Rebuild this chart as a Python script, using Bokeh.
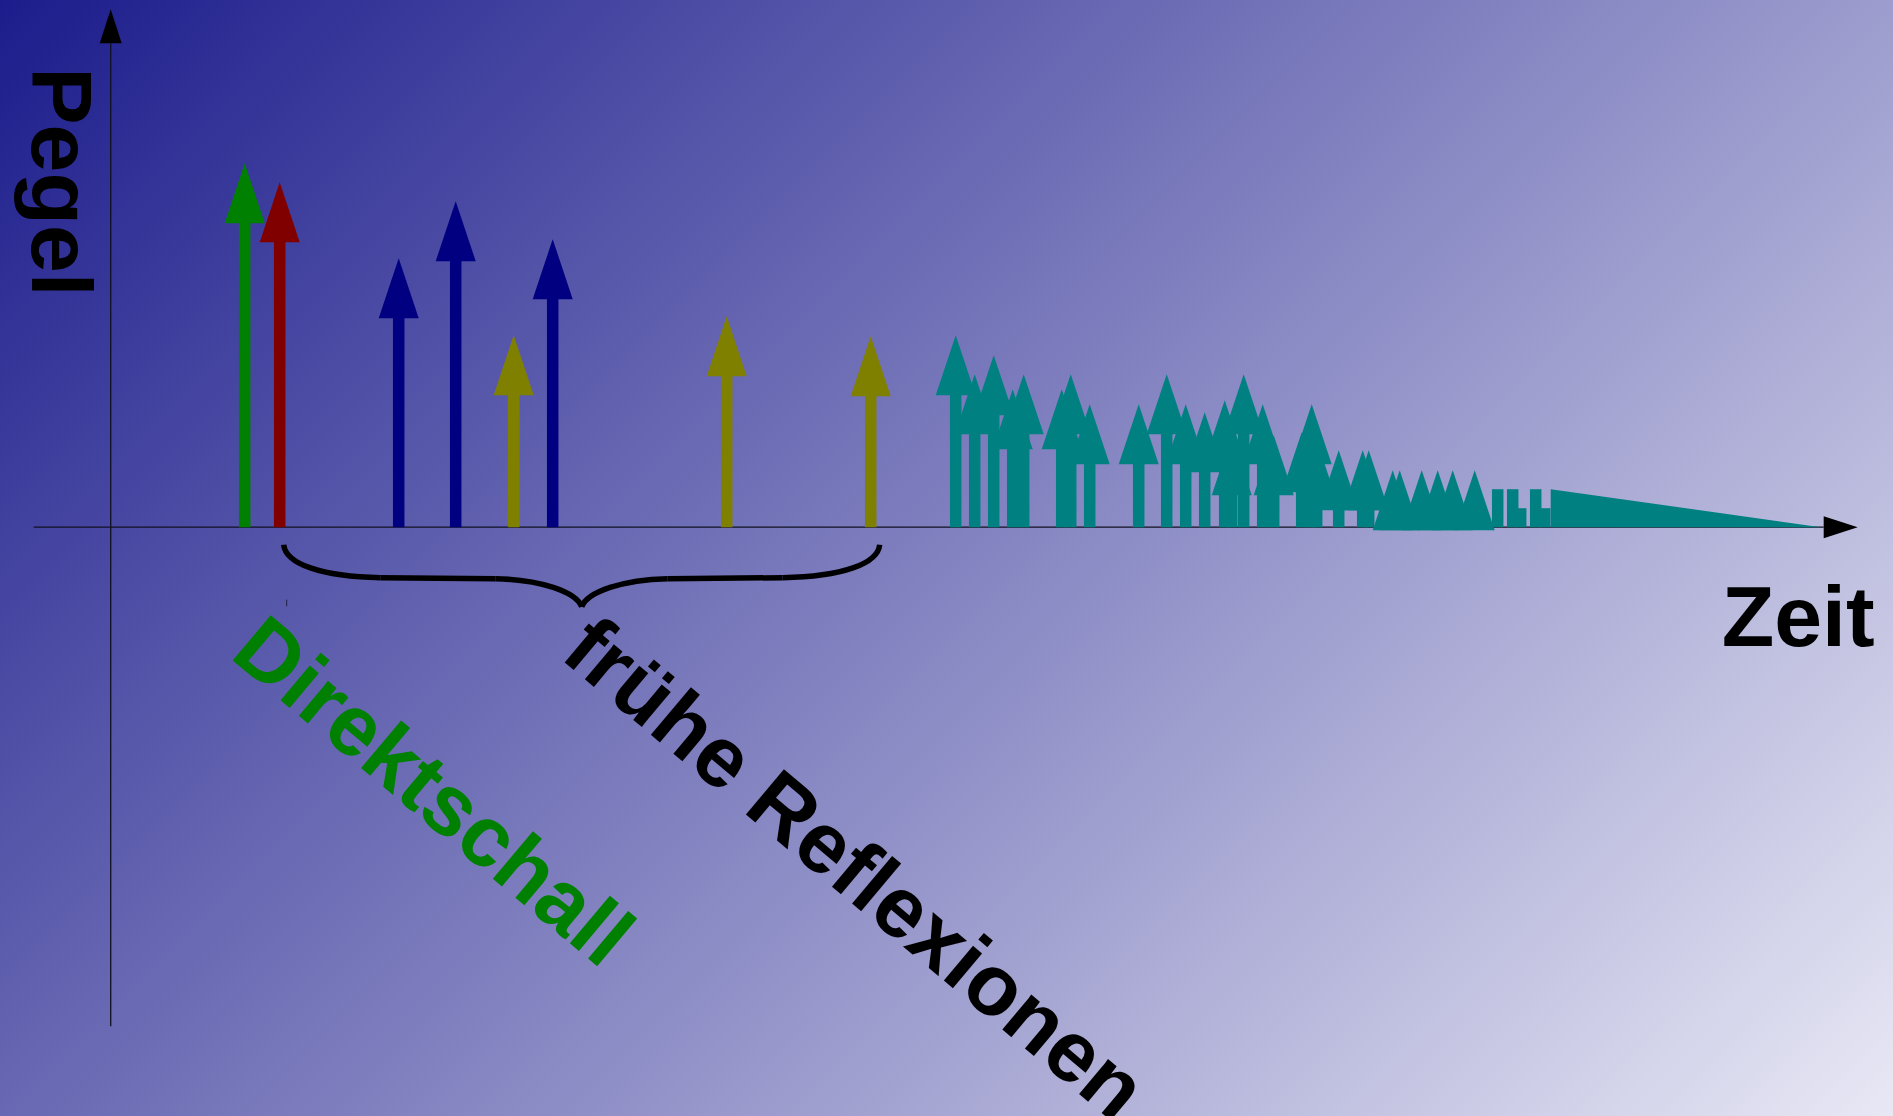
import math
from bokeh.plotting import figure
from bokeh.models import Range1d, ColumnDataSource
from bokeh.core.properties import value
from bokeh.embed import file_html
from bokeh.resources import INLINE

# ---------------- data (time / level in arbitrary units, origin at axis crossing) ----------------
direct_time = [13.4]                     # Direktschall (green)
direct_level = [36.4]
first_time = [16.9]                      # first reflection (red)
first_level = [34.5]
blue_time = [28.8, 34.5, 44.2]
blue_level = [26.9, 32.6, 28.8]
olive_time = [40.3, 61.6, 76.0]
olive_level = [19.2, 21.1, 19.1]
teal_time = [84.5, 86.4, 88.3, 90.2, 91.3, 95.1, 96.0, 97.9, 102.8, 105.6,
             107.5, 109.4, 111.4, 112.1, 113.3, 115.2, 116.3, 119.1, 120.1, 120.6,
             122.8, 125.2, 125.8, 128.2, 128.9, 131.1, 132.7, 134.2, 136.4]
teal_level = [19.2, 15.3, 17.2, 13.8, 15.3, 13.8, 15.3, 12.3, 12.3, 15.3,
              12.3, 11.5, 12.7, 9.2, 15.3, 12.3, 9.2, 9.5, 12.3, 8.7,
              7.7, 7.7, 7.7, 5.7, 5.7, 5.7, 5.7, 5.7, 5.7]
stub_time = [138.7, 140.2, 141.0, 142.5, 143.4]
stub_level = [3.8, 3.8, 1.9, 3.8, 1.9]
tail_time = [144.0, 171.0]               # diffuse decay
tail_level = [3.8, 0.0]
brace_span = [17.3, 76.9]                # "frühe Reflexionen"

# ---------------- styles ----------------
PX = 10.0            # pixels per data unit
HEAD_LEN = 60 / PX
HEAD_HALF = 20 / PX
SHAFT_W = 11.5 / PX
W, H = 1893, 1116
X0_PX, Y0_PX = 110.2, 526.7   # axis origin in pixels
FONT = value("Liberation Sans")

p = figure(width=W, height=H, output_backend="svg", toolbar_location=None,
           x_axis_type=None, y_axis_type=None, min_border=0,
           x_range=Range1d((0 - X0_PX) / PX, (W - X0_PX) / PX),
           y_range=Range1d((Y0_PX - H) / PX, Y0_PX / PX))
p.outline_line_color = None
p.background_fill_alpha = 0
p.border_fill_alpha = 0
p.styles = {"background": "linear-gradient(135deg, #1c1c8c 0%, #e8e8f5 100%)"}

# ---------------- axes with arrow heads ----------------
AX_HEAD_L, AX_HEAD_HW = 3.4, 1.1
p.line([-7.7, 174.7 - AX_HEAD_L], [0, 0], line_color="#111122", line_width=1.3)
p.line([0, 0], [-49.9, 51.8 - AX_HEAD_L], line_color="#111122", line_width=1.3)
p.patch([174.7 - AX_HEAD_L, 174.7, 174.7 - AX_HEAD_L], [AX_HEAD_HW, 0, -AX_HEAD_HW],
        fill_color="black", line_color=None)
p.patch([-AX_HEAD_HW, 0, AX_HEAD_HW], [51.8 - AX_HEAD_L, 51.8, 51.8 - AX_HEAD_L],
        fill_color="black", line_color=None)


def arrows(times, levels, color):
    tops = [max(l - HEAD_LEN + 0.05, 0) for l in levels]
    shafts = [(t, tp) for t, tp in zip(times, tops) if tp > 0]
    if shafts:
        p.vbar(x=[s[0] for s in shafts], top=[s[1] for s in shafts], bottom=0,
               width=SHAFT_W, fill_color=color, line_color=None)
    xs = [[t - HEAD_HALF, t, t + HEAD_HALF] for t in times]
    ys = [[l - HEAD_LEN, l, l - HEAD_LEN] for l in levels]
    p.patches(xs, ys, fill_color=color, line_color=None)


arrows(direct_time, direct_level, "#008000")
arrows(first_time, first_level, "#800000")
arrows(blue_time, blue_level, "#000080")
arrows(olive_time, olive_level, "#808000")
arrows(teal_time, teal_level, "#008080")
p.vbar(x=stub_time, top=stub_level, bottom=0, width=SHAFT_W,
       fill_color="#008080", line_color=None)
p.patch([tail_time[0], tail_time[0], tail_time[1]], [0, tail_level[0], tail_level[1]],
        fill_color="#008080", line_color=None)

# ---------------- curly brace below the early reflections ----------------
b0, b1 = brace_span
top = -1.75
mid = (b0 + b1) / 2
bz = dict(x0=[], y0=[], x1=[], y1=[], cx0=[], cy0=[], cx1=[], cy1=[])
seg_x0, seg_y0, seg_x1, seg_y1 = [], [], [], []
for a, d in ((b0, 1), (b1, -1)):
    for (px0, py0, qx0, qy0, qx1, qy1, px1, py1) in (
            (a, top, a + d * 0.2, top - 1.9, a + d * 3.7, top - 3.2, a + d * 9.7, top - 3.3),
            (mid - d * 8.6, top - 3.4, mid - d * 4.1, top - 3.5, mid - d * 0.6, top - 4.7, mid, top - 6.2)):
        bz["x0"].append(px0); bz["y0"].append(py0)
        bz["cx0"].append(qx0); bz["cy0"].append(qy0)
        bz["cx1"].append(qx1); bz["cy1"].append(qy1)
        bz["x1"].append(px1); bz["y1"].append(py1)
    seg_x0.append(a + d * 9.7); seg_y0.append(top - 3.3)
    seg_x1.append(mid - d * 8.6); seg_y1.append(top - 3.4)
p.bezier(x0="x0", y0="y0", x1="x1", y1="y1", cx0="cx0", cy0="cy0", cx1="cx1", cy1="cy1",
         source=ColumnDataSource(bz), line_color="black", line_width=5.5)
p.segment(x0=seg_x0, y0=seg_y0, x1=seg_x1, y1=seg_y1, line_color="black", line_width=5.5)
p.segment(x0=[b0 + 0.3], y0=[-7.25], x1=[b0 + 0.3], y1=[-7.9], line_color="#222244", line_width=1)

# ---------------- labels ----------------
TXT = dict(text_font=FONT, text_font_style="bold",
           text_align="left", text_baseline="alphabetic")


def label(x, y, txt, deg, color, lift, size="86px"):
    """place a label; lift (px) moves the anchor along the text's up direction"""
    a = math.radians(deg)
    ux, uy = -math.sin(a), math.cos(a)
    p.text(x=[x + ux * lift / PX], y=[y + uy * lift / PX], text=[txt], angle=a,
           text_color=color, text_font_size=size, **TXT)


label(-7.92, 46.0, "Pegel", -90, "black", 30)
label(161.1, -11.83, "Zeit", 0, "black", 30)
label(11.76, -12.95, "Direktschall", -40, "#008000", 30)
label(44.58, -13.23, "frühe Reflexionen", -40, "black", 33)

open("out.html", "w").write(file_html(p, INLINE))
